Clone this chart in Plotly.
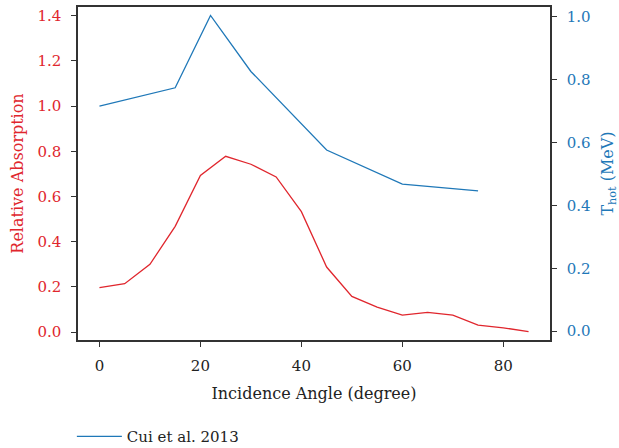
import plotly.graph_objects as go

angle_abs = [0, 5, 10, 15, 20, 25, 30, 35, 40, 45, 50, 55, 60, 65, 70, 75, 80, 85]
rel_absorption = [0.197, 0.214, 0.300, 0.468, 0.693, 0.778, 0.743, 0.687, 0.533, 0.288,
                  0.158, 0.111, 0.075, 0.087, 0.075, 0.031, 0.019, 0.002]

angle_cui = [0, 15, 22, 30, 45, 60, 75]
t_hot_cui = [0.716, 0.774, 1.004, 0.826, 0.576, 0.468, 0.446]

x_ticks = [0, 20, 40, 60, 80]
left_ticks = [0.0, 0.2, 0.4, 0.6, 0.8, 1.0, 1.2, 1.4]
right_ticks = [0.0, 0.2, 0.4, 0.6, 0.8, 1.0]

RED = "#e0262d"
BLUE = "#1f78b8"
FONT = "DejaVu Serif"

fig = go.Figure()
fig.add_trace(go.Scatter(x=angle_abs, y=rel_absorption, mode="lines",
                         line=dict(color=RED, width=1.3), showlegend=False, yaxis="y"))
fig.add_trace(go.Scatter(x=angle_cui, y=t_hot_cui, mode="lines",
                         line=dict(color=BLUE, width=1.3), name="Cui et al. 2013", yaxis="y2"))

fig.update_layout(
    width=619, height=448,
    margin=dict(l=78, r=69, t=7, b=108, autoexpand=False),
    paper_bgcolor="white", plot_bgcolor="white",
    font=dict(family=FONT, size=15, color="#222"),
    xaxis=dict(range=[-4.25, 89.25], tickvals=x_ticks, showgrid=False, zeroline=False,
               showline=True, linecolor="#333", linewidth=1.5, mirror=True,
               ticks="outside", ticklen=5, tickcolor="#333", ticklabelstandoff=6,
               automargin=False,
               tickfont=dict(size=15, color="#222"),
               title=dict(text="Incidence Angle (degree)", font=dict(size=16), standoff=14)),
    yaxis=dict(range=[-0.035, 1.439], tickvals=left_ticks, tickformat=".1f",
               showgrid=False, zeroline=False, automargin=False,
               showline=True, linecolor="#333", linewidth=1.5, mirror=True,
               ticks="outside", ticklen=5, tickcolor="#333", ticklabelstandoff=7,
               tickfont=dict(size=15, color=RED),
               title=dict(text="Relative Absorption", font=dict(size=16, color=RED), standoff=10)),
    yaxis2=dict(range=[-0.028, 1.031], tickvals=right_ticks, tickformat=".1f",
                overlaying="y", side="right", showgrid=False, zeroline=False, automargin=False,
                showline=True, linecolor="#333", linewidth=1.5,
                ticks="outside", ticklen=5, tickcolor="#333", ticklabelstandoff=7,
                tickfont=dict(size=15, color=BLUE),
                title=dict(text="T<sub>hot</sub> (MeV)", font=dict(size=16, color=BLUE), standoff=12)),
    legend=dict(x=-0.013, y=-0.29, xanchor="left", yanchor="middle", orientation="h",
                itemwidth=45,
                font=dict(size=15, color="#222"), bgcolor="rgba(0,0,0,0)"),
)

fig.write_html("out.html")
